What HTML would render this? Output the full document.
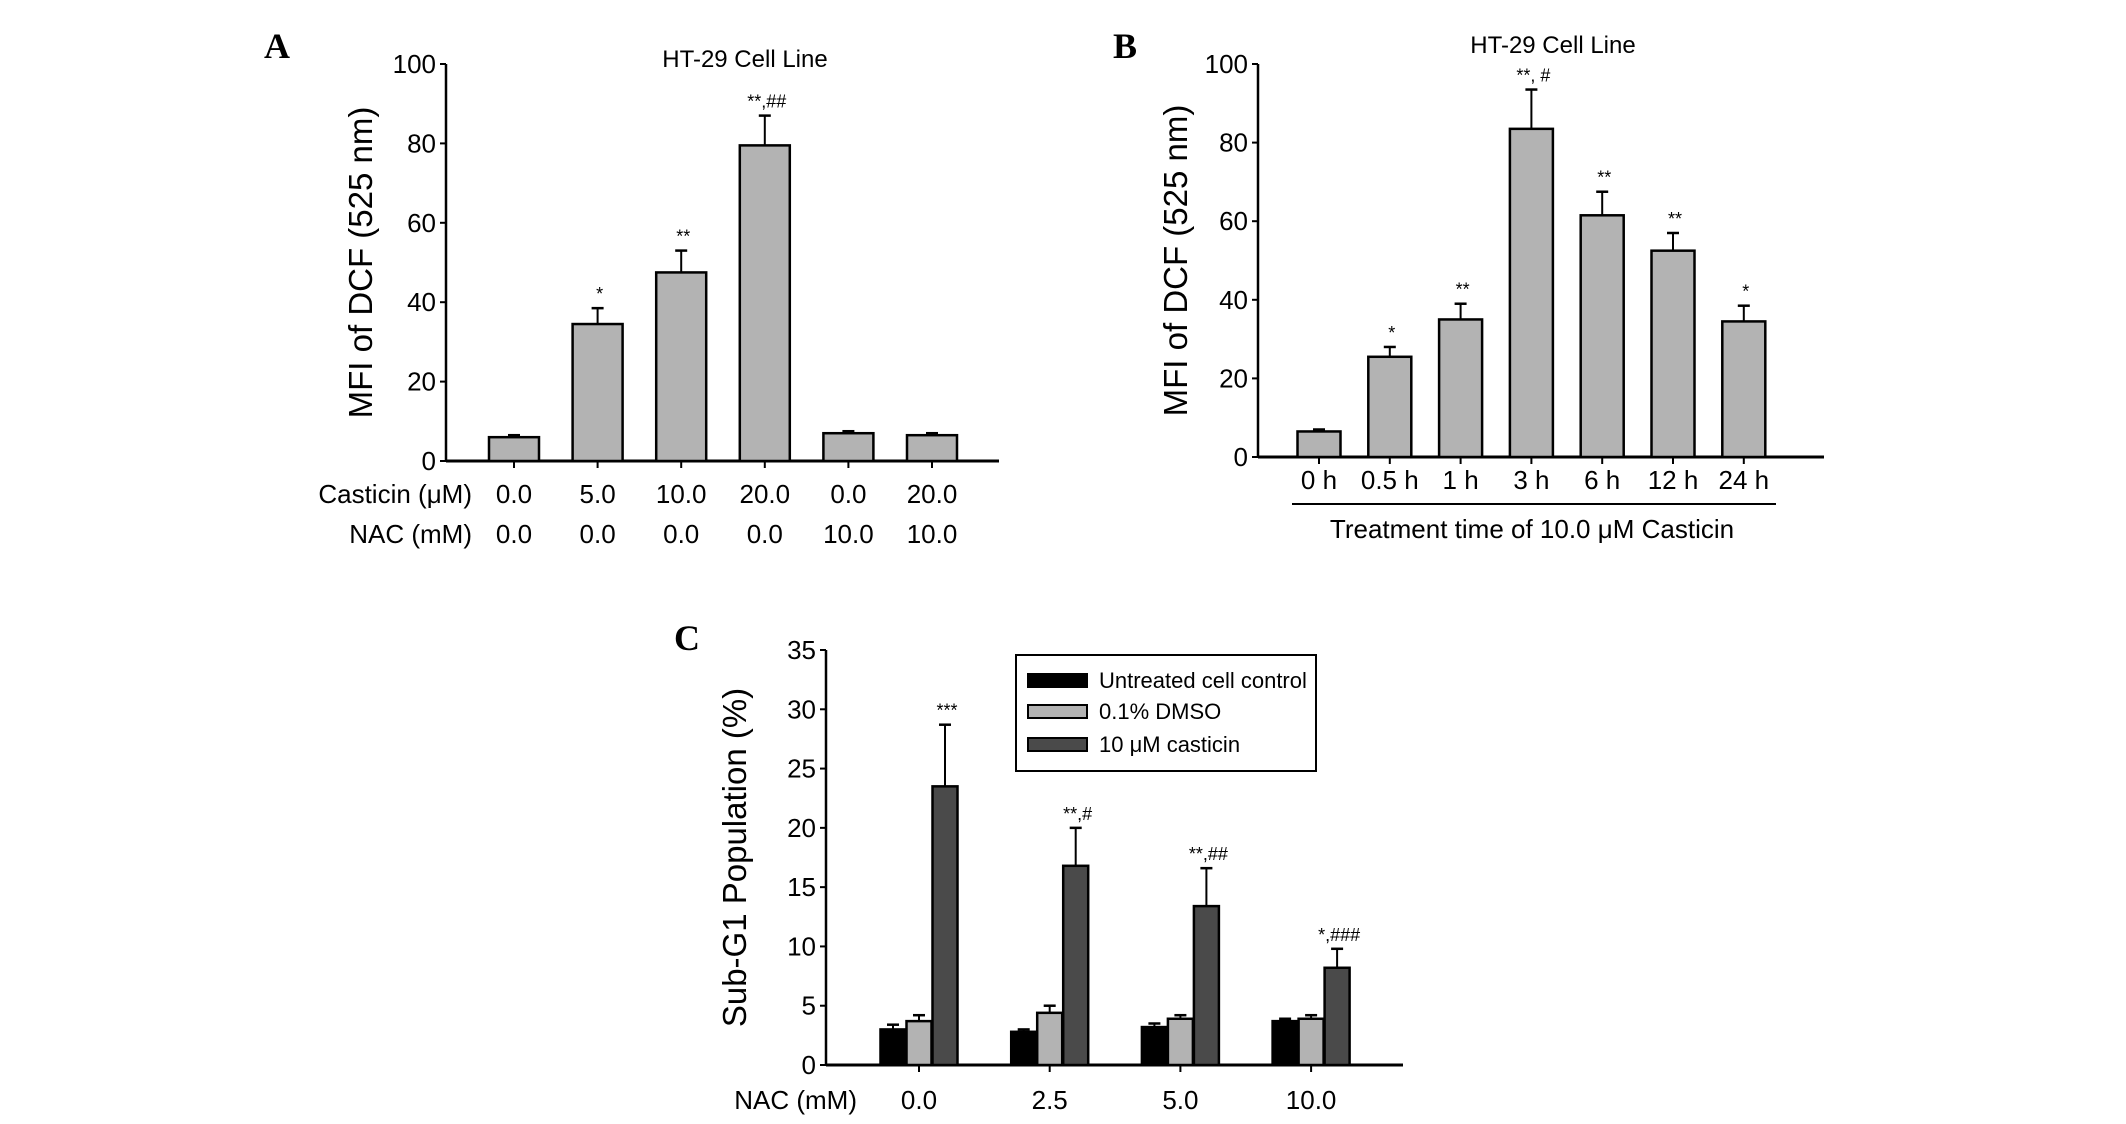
<!DOCTYPE html>
<html><head><meta charset="utf-8"><style>
html,body{margin:0;padding:0;background:#fff;}
svg{display:block;font-family:"Liberation Sans",Arial,sans-serif;}
</style></head><body>
<svg id="fig" width="2126" height="1124" viewBox="0 0 2126 1124" xmlns="http://www.w3.org/2000/svg">
<rect width="2126" height="1124" fill="#fff"/>
</svg>
<script>
// Panel A data
const aCasticin = ["0.0","5.0","10.0","20.0","0.0","20.0"];
const aNac = ["0.0","0.0","0.0","0.0","10.0","10.0"];
const aValues = [6, 34.5, 47.5, 79.5, 7, 6.5];
const aErrors = [6.5, 38.5, 53, 87, 7.5, 7];
const aSig = ["", "*", "**", "**,##", "", ""];
const aTicks = [0,20,40,60,80,100];
// Panel B data
const bCats = ["0 h","0.5 h","1 h","3 h","6 h","12 h","24 h"];
const bValues = [6.5, 25.5, 35, 83.5, 61.5, 52.5, 34.5];
const bErrors = [7, 28, 39, 93.5, 67.5, 57, 38.5];
const bSig = ["", "*", "**", "**, #", "**", "**", "*"];
const bTicks = [0,20,40,60,80,100];
// Panel C data
const cCats = ["0.0","2.5","5.0","10.0"];
const cSeriesNames = ["Untreated cell control","0.1% DMSO","10 μM casticin"];
const cUntreated = [3.0, 2.8, 3.2, 3.7];
const cUntreatedErr = [3.4, 3.0, 3.5, 3.9];
const cDmso = [3.7, 4.4, 3.9, 3.9];
const cDmsoErr = [4.2, 5.0, 4.2, 4.2];
const cCasticin = [23.5, 16.8, 13.4, 8.2];
const cCasticinErr = [28.7, 20.0, 16.6, 9.8];
const cSig = ["***", "**,#", "**,##", "*,###"];
const cTicks = [0,5,10,15,20,25,30,35];

const svg = document.getElementById('fig');
const NS = 'http://www.w3.org/2000/svg';
function mk(tag, attrs, parent){
  const e = document.createElementNS(NS, tag);
  for (const k in attrs) e.setAttribute(k, attrs[k]);
  (parent||svg).appendChild(e);
  return e;
}
function txt(str, x, y, size, anchor, parent, extra){
  const t = mk('text', Object.assign({x:x, y:y, 'font-size':size, 'text-anchor':anchor||'middle', fill:'#000'}, extra||{}), parent);
  t.textContent = str;
  return t;
}

function axisPanel(name, x0, y0, yTop, xEnd, maxV, ticks, titleStr, titleX){
  const g = mk('g', {});
  
  
  const ys = v => y0 - (v/maxV)*(y0-yTop);
  const yax = mk('line', {x1:x0, y1:yTop, x2:x0, y2:y0+1, stroke:'#000','stroke-width':2.5}, g);
  
  
  const xax = mk('line', {x1:x0, y1:y0, x2:xEnd, y2:y0, stroke:'#000','stroke-width':3}, g);
  
  
  ticks.forEach(v=>{
    mk('line', {x1:x0-6, y1:ys(v), x2:x0, y2:ys(v), stroke:'#000','stroke-width':2}, g);
    const t = txt(String(v), x0-10, ys(v)+9, 26, 'end', g);
    
    
  });
  const yt = txt(titleStr, 0, 0, 33, 'middle', g, {transform:`translate(${titleX},${(y0+yTop)/2}) rotate(-90)`});
  
  
  return {g, ys};
}
function bar(g, cx, w, v, e, ys, fill, y0){
  const r = mk('rect', {x:cx-w/2, y:ys(v), width:w, height:y0-ys(v), fill:fill, stroke:'#000','stroke-width':2.5}, g);
  
  
  mk('line', {x1:cx, y1:ys(v), x2:cx, y2:ys(e), stroke:'#000','stroke-width':2}, g);
  mk('line', {x1:cx-6, y1:ys(e), x2:cx+6, y2:ys(e), stroke:'#000','stroke-width':2.5}, g);
}

// Panel A
(function(){
  const x0=446, y0=461, yTop=64, xEnd=999;
  const {g, ys} = axisPanel('panel-a', x0, y0, yTop, xEnd, 100, aTicks, 'MFI of DCF (525 nm)', 372);
  const first=514, step=83.6, w=50;
  aValues.forEach((v,i)=>{
    const cx = first+i*step;
    bar(g, cx, w, v, aErrors[i], ys, '#b3b3b3', y0);
    mk('line', {x1:cx, y1:y0, x2:cx, y2:y0+7, stroke:'#000','stroke-width':2}, g);
    if (aSig[i]) txt(aSig[i], cx+2, ys(aErrors[i])-8, 18, 'middle', g);
    txt(aCasticin[i], cx, 503, 26, 'middle', g);
    txt(aNac[i], cx, 543, 26, 'middle', g);
  });
  txt('Casticin (μM)', 472, 503, 26, 'end', g);
  txt('NAC (mM)', 472, 543, 26, 'end', g);
  const t = txt('HT-29 Cell Line', 745, 67, 24, 'middle', g);
  
  
  txt('A', 264, 58, 36, 'start', g, {'font-family':'"Liberation Serif",serif','font-weight':'bold'});
})();

// Panel B
(function(){
  const x0=1258, y0=457, yTop=64, xEnd=1824;
  const {g, ys} = axisPanel('panel-b', x0, y0, yTop, xEnd, 100, bTicks, 'MFI of DCF (525 nm)', 1187);
  const first=1319, step=70.8, w=43;
  bValues.forEach((v,i)=>{
    const cx = first+i*step;
    bar(g, cx, w, v, bErrors[i], ys, '#b3b3b3', y0);
    mk('line', {x1:cx, y1:y0, x2:cx, y2:y0+7, stroke:'#000','stroke-width':2}, g);
    if (bSig[i]) txt(bSig[i], cx+2, ys(bErrors[i])-8, 18, 'middle', g);
    txt(bCats[i], cx, 489, 26, 'middle', g);
  });
  mk('line', {x1:1292, y1:504, x2:1776, y2:504, stroke:'#000','stroke-width':2}, g);
  txt('Treatment time of 10.0 μM Casticin', 1532, 538, 26, 'middle', g);
  const t = txt('HT-29 Cell Line', 1553, 53, 24, 'middle', g);
  
  
  txt('B', 1113, 58, 36, 'start', g, {'font-family':'"Liberation Serif",serif','font-weight':'bold'});
})();

// Panel C
(function(){
  const x0=826, y0=1065, yTop=650, xEnd=1403;
  const {g, ys} = axisPanel('panel-c', x0, y0, yTop, xEnd, 35, cTicks, 'Sub-G1 Population (%)', 746);
  const first=919, step=130.7, w=25, off=26;
  const series=[[cUntreated,cUntreatedErr,'#000'],[cDmso,cDmsoErr,'#b3b3b3'],[cCasticin,cCasticinErr,'#4a4a4a']];
  cCats.forEach((c,i)=>{
    const gc = first+i*step;
    series.forEach((s,j)=>{
      bar(g, gc+(j-1)*off, w, s[0][i], s[1][i], ys, s[2], y0);
    });
    mk('line', {x1:gc, y1:y0, x2:gc, y2:y0+7, stroke:'#000','stroke-width':2}, g);
    txt(cSig[i], gc+off+2, ys(cCasticinErr[i])-8, 18, 'middle', g);
    txt(c, gc, 1109, 26, 'middle', g);
  });
  txt('NAC (mM)', 857, 1109, 26, 'end', g);
  const lg = mk('g', {}, g);
  
  
  mk('rect', {x:1016, y:655, width:300, height:116, fill:'#fff', stroke:'#000','stroke-width':2}, lg);
  const rowY=[680,711,744], fills=['#000','#b3b3b3','#4a4a4a'];
  cSeriesNames.forEach((n,j)=>{
    const e = mk('g', {}, lg);
    
    
    mk('rect', {x:1028, y:rowY[j]-6, width:59, height:13, fill:fills[j], stroke:'#000','stroke-width':2}, e);
    txt(n, 1099, rowY[j]+8, 22, 'start', e);
  });
  txt('C', 674, 650, 36, 'start', g, {'font-family':'"Liberation Serif",serif','font-weight':'bold'});
})();
</script>
</body></html>
